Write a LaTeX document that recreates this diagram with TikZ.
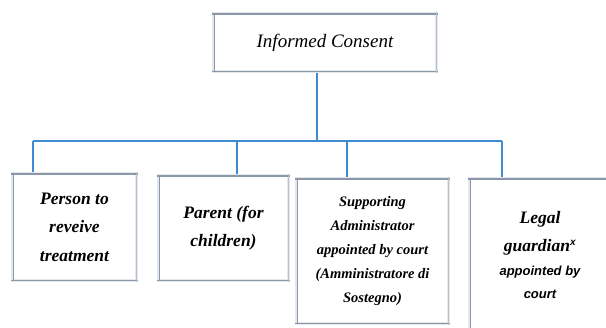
\documentclass[tikz,border=0pt]{standalone}
\usepackage{fontspec}
\setmainfont{Liberation Serif}
\newfontfamily\arialfont{Liberation Sans}
\usetikzlibrary{positioning}
\definecolor{framegray}{HTML}{E4E7EC}
\definecolor{edgegray}{HTML}{8A97A9}
\definecolor{linkblue}{HTML}{3F8BD0}
\tikzset{
  panel/.style={draw=framegray, line width=3pt, fill=white, outer sep=1.5pt,
    inner sep=0pt, align=center},
  link/.style={draw=linkblue, line width=1.1pt},
  boxtext/.style={font=\fontsize{17.5}{28.5}\selectfont\bfseries\itshape},
}

\begin{document}
\begin{tikzpicture}[x=1pt,y=-1pt]
  \useasboundingbox (0,0) rectangle (606,328);
  % Top box
  \node[panel, minimum width=223pt, minimum height=58pt,
    font=\fontsize{19}{23}\selectfont\itshape] (consent) at (325,42.5) {Informed Consent};
  % Boxes in the lower row
  \node[panel, boxtext, minimum width=124pt, minimum height=107pt] (person) at (74.5,227)
    {Person to\\ reveive\\ treatment};
  \node[panel, boxtext, minimum width=130pt, minimum height=105pt] (parent) at (223.5,228)
    {Parent (for\\ children)};
  \node[panel, font=\fontsize{14.5}{24}\selectfont\bfseries\itshape,
    minimum width=152pt, minimum height=145pt] (support) at (372.5,251)
    {Supporting\\ Administrator\\ appointed by court\\ (Amministratore di\\ Sostegno)};
  \node[panel, boxtext, minimum width=141pt, minimum height=153.5pt] (guardian) at (540,255)
    {Legal\\ guardian\textsuperscript{\arialfont\fontsize{10}{10}\selectfont x}\\[-5pt]
     {\arialfont\fontsize{13}{22}\selectfont appointed by}\\[-5pt]
     {\arialfont\fontsize{13}{22}\selectfont court}};
  % Shaded edges of the frames
  \foreach \n in {consent,person,parent,support,guardian} {
    \draw[edgegray, line width=1.5pt] ([yshift=-2.25pt]\n.north west) -- ([yshift=-2.25pt]\n.north east);
    \draw[edgegray, line width=0.9pt] ([xshift=2.2pt,yshift=-1.5pt]\n.north west) -- ([xshift=2.2pt,yshift=1.5pt]\n.south west);
    \draw[edgegray, line width=1.6pt] ([yshift=1.5pt]\n.south west) -- ([yshift=1.5pt]\n.south east);
    \draw[edgegray!60, line width=0.6pt] ([xshift=-1.5pt]\n.north east) -- ([xshift=-1.5pt]\n.south east);
  }
  % Connectors
  \coordinate (hub) at (317,141);
  \coordinate (b1) at (33,141);
  \coordinate (b2) at (237,141);
  \coordinate (b3) at (347,141);
  \coordinate (b4) at (502,141);
  \draw[link] (consent.south -| hub) -- (hub);
  \draw[link] (b1) -- (b4);
  \draw[link] (b1) -- (b1 |- person.north);
  \draw[link] (b2) -- (b2 |- parent.north);
  \draw[link] (b3) -- (b3 |- support.north);
  \draw[link] (b4) -- (b4 |- guardian.north);
\end{tikzpicture}
\end{document}
